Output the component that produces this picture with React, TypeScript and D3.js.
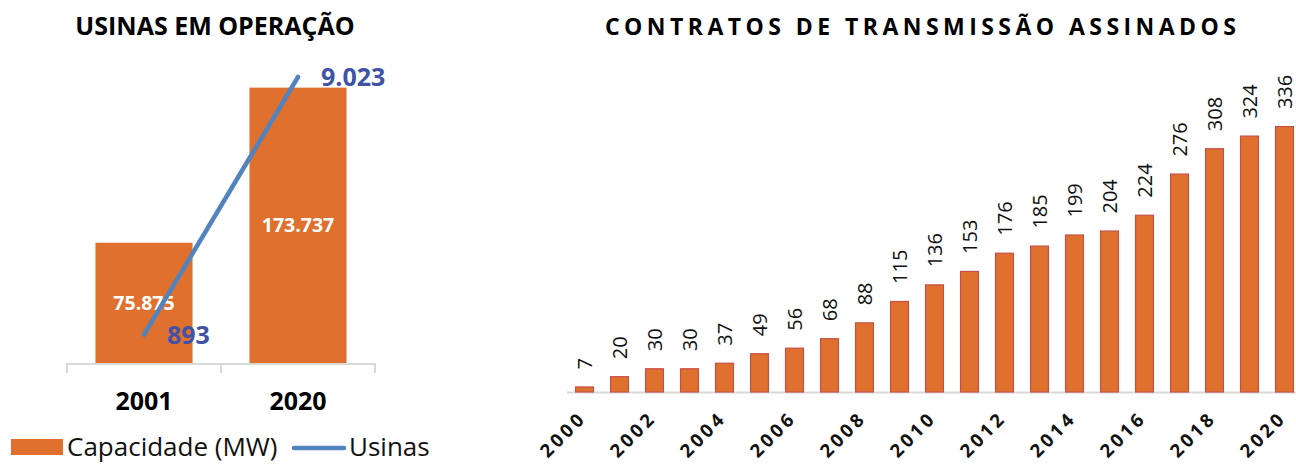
import React, { useEffect, useRef } from 'react';
import * as d3 from 'd3';

// left chart: usinas em operação
const usinasYears = ['2001', '2020'];
const capacidadeMW = [75875, 173737];
const usinasCount = [893, 9023];

// right chart: contratos de transmissão
const transYears = ['2000', '2001', '2002', '2003', '2004', '2005', '2006', '2007', '2008', '2009', '2010',
  '2011', '2012', '2013', '2014', '2015', '2016', '2017', '2018', '2019', '2020'];
const contratos = [7, 20, 30, 30, 37, 49, 56, 68, 88, 115, 136, 153, 176, 185, 199, 204, 224, 276, 308, 324, 336];
const transTicks = ['2000', '2002', '2004', '2006', '2008', '2010', '2012', '2014', '2016', '2018', '2020'];

const ORANGE = '#E0702D';
const BLUE = '#5183BE';
const BLUE_TXT = '#4052A6';
const FONT = '"Open Sans", sans-serif';

const ptBR = d3.formatLocale({ decimal: ',', thousands: '.', grouping: [3], currency: ['R$', ''] });
const fmt = ptBR.format(',d');

export default function App() {
  const svgRef = useRef<SVGSVGElement>(null);

  useEffect(() => {
    const svg = d3.select(svgRef.current);
    svg.selectAll('*').remove();
    svg.style('font-family', FONT);

    // ---------- left chart ----------
    const base = 363;
    const x1 = d3.scaleBand().domain(usinasYears).range([67, 375]).paddingInner(0.37).paddingOuter(0.185);
    const yCap = d3.scaleLinear().domain([0, 200000]).range([base, 46]);
    const yUs = d3.scaleLinear().domain([0, 10000]).range([base, 46]);

    svg.append('text')
      .attr('x', 215).attr('y', 35)
      .attr('text-anchor', 'middle')
      .attr('font-size', 25).attr('font-weight', 700)
      .text('USINAS EM OPERAÇÃO');

    const left = svg.append('g');
    left.selectAll('rect')
      .data(capacidadeMW)
      .enter()
      .append('rect')
      .attr('x', (d, i) => x1(usinasYears[i])!)
      .attr('width', x1.bandwidth())
      .attr('y', d => yCap(d))
      .attr('height', d => base - yCap(d))
      .attr('fill', ORANGE);

    // axis line + category ticks
    left.append('line')
      .attr('x1', 67).attr('x2', 375).attr('y1', base + 1).attr('y2', base + 1)
      .attr('stroke', '#d9d9d9').attr('stroke-width', 2);
    const edges = [67, ...usinasYears.map(y => x1(y)! + x1.bandwidth() + x1.step() * 0.185)];
    left.selectAll('.tk')
      .data(edges)
      .enter()
      .append('line')
      .attr('x1', d => d).attr('x2', d => d)
      .attr('y1', base).attr('y2', base + 10)
      .attr('stroke', '#d9d9d9').attr('stroke-width', 2);

    left.selectAll('.xl')
      .data(usinasYears)
      .enter()
      .append('text')
      .attr('x', d => x1(d)! + x1.bandwidth() / 2)
      .attr('y', 410)
      .attr('text-anchor', 'middle')
      .attr('font-size', 25).attr('font-weight', 700)
      .text(d => d);

    // bar values
    left.selectAll('.bv')
      .data(capacidadeMW)
      .enter()
      .append('text')
      .attr('x', (d, i) => x1(usinasYears[i])! + x1.bandwidth() / 2)
      .attr('y', d => (yCap(d) + base) / 2)
      .attr('dy', '0.36em')
      .attr('text-anchor', 'middle')
      .attr('fill', '#fff')
      .attr('font-size', 19.5).attr('font-weight', 700)
      .text(d => fmt(d));

    const line = d3.line<number>()
      .x((d, i) => x1(usinasYears[i])! + x1.bandwidth() / 2)
      .y(d => yUs(d));

    left.append('path')
      .datum(usinasCount)
      .attr('fill', 'none')
      .attr('stroke', BLUE)
      .attr('stroke-width', 4.5)
      .attr('stroke-linecap', 'round')
      .attr('d', line);

    left.selectAll('.lv')
      .data(usinasCount)
      .enter()
      .append('text')
      .attr('x', (d, i) => x1(usinasYears[i])! + x1.bandwidth() / 2 + 23)
      .attr('y', d => yUs(d) + 9)
      .attr('fill', BLUE_TXT)
      .attr('font-size', 25).attr('font-weight', 700)
      .text(d => fmt(d));

    // legend
    left.append('rect')
      .attr('x', 11).attr('y', 439).attr('width', 52).attr('height', 16)
      .attr('fill', ORANGE);
    left.append('text')
      .attr('x', 67).attr('y', 456)
      .attr('font-size', 26)
      .attr('fill', '#111')
      .text('Capacidade (MW)');
    left.append('line')
      .attr('x1', 294).attr('x2', 344).attr('y1', 448).attr('y2', 448)
      .attr('stroke', BLUE).attr('stroke-width', 4.5).attr('stroke-linecap', 'round');
    left.append('text')
      .attr('x', 349).attr('y', 456)
      .attr('font-size', 26)
      .attr('fill', '#111')
      .text('Usinas');

    // ---------- right chart ----------
    const base2 = 392;
    const x2 = d3.scaleBand().domain(transYears).range([567, 1302]).paddingInner(0.46).paddingOuter(0.23);
    const y2 = d3.scaleLinear().domain([0, 350]).range([base2, 115]);

    svg.append('text')
      .attr('x', 605).attr('y', 35)
      .attr('font-size', 23).attr('font-weight', 700)
      .attr('letter-spacing', 4.45)
      .text('CONTRATOS DE TRANSMISSÃO ASSINADOS');

    const right = svg.append('g');
    right.append('line')
      .attr('x1', 567).attr('x2', 1302).attr('y1', base2 + 0.5).attr('y2', base2 + 0.5)
      .attr('stroke', '#d9d9d9').attr('stroke-width', 2);

    right.selectAll('rect')
      .data(contratos)
      .enter()
      .append('rect')
      .attr('x', (d, i) => x2(transYears[i])! + 0.5)
      .attr('width', x2.bandwidth() - 1)
      .attr('y', d => y2(d) + 0.5)
      .attr('height', d => base2 - y2(d) - 0.5)
      .attr('fill', ORANGE)
      .attr('stroke', '#C4504A')
      .attr('stroke-width', 1.2);

    right.selectAll('.cv')
      .data(contratos)
      .enter()
      .append('text')
      .attr('transform', (d, i) =>
        `translate(${x2(transYears[i])! + x2.bandwidth() / 2 + 7},${y2(d) - 17}) rotate(-90)`)
      .attr('font-size', 20)
      .attr('fill', '#111')
      .text(d => d);

    right.selectAll('.tl')
      .data(transTicks)
      .enter()
      .append('text')
      .attr('transform', d => `translate(${x2(d)! + x2.bandwidth() / 2 + 3},${base2 + 27}) rotate(-45)`)
      .attr('text-anchor', 'end')
      .attr('font-size', 18.5).attr('font-weight', 700)
      .attr('letter-spacing', 3.5)
      .attr('fill', '#111')
      .text(d => d);
  }, []);

  return (
    <svg ref={svgRef} width={1296} height={464}
      style={{ position: 'absolute', left: 0, top: 0, background: '#fff' }} />
  );
}
